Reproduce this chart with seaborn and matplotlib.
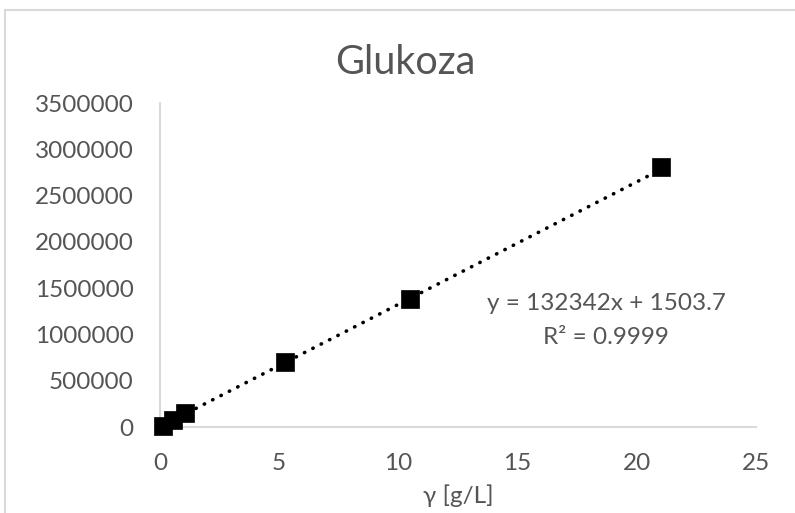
import numpy as np
import pandas as pd
import matplotlib
matplotlib.use("Agg")
import matplotlib.pyplot as plt
import matplotlib.patches as mpatches
import seaborn as sns

# Data
conc = [0.105, 0.525, 1.05, 5.25, 10.5, 21.0]
area = [16000, 78000, 148000, 702000, 1380000, 2805000]
slope = 132342
intercept = 1503.7
r2 = 0.9999
title = "Glukoza"
xlabel = "γ [g/L]"
xticks = [0, 5, 10, 15, 20, 25]
yticks = [0, 500000, 1000000, 1500000, 2000000, 2500000, 3000000, 3500000]

sns.set_theme(style="white")
plt.rcParams['font.family'] = ['Lato', 'DejaVu Sans']

gray = "#555555"
fs = 17.5
fig = plt.figure(figsize=(7.95, 5.13), dpi=100)
ax = fig.add_axes([160/795, 86/513, (756-160)/795, (427-103)/513])

df = pd.DataFrame({"x": conc, "y": area})
fit = pd.DataFrame({"x": [conc[0], conc[-1]],
                    "y": [slope*conc[0] + intercept, slope*conc[-1] + intercept]})
sns.lineplot(data=fit, x="x", y="y", ax=ax, color="black", linewidth=2.6,
             linestyle=(0, (0.1, 2.5)), dash_capstyle="round", zorder=2)
sns.scatterplot(data=df, x="x", y="y", ax=ax, marker="s", s=170, color="black",
                edgecolor="black", linewidth=0.5, zorder=3, clip_on=False)

ax.set_xlim(0, 25)
ax.set_ylim(0, 3500000)
ax.set_xticks(xticks)
ax.set_yticks(yticks)
ax.set_xticklabels([str(t) for t in xticks])
ax.set_yticklabels([str(t) for t in yticks])
ax.tick_params(axis="both", length=0, labelsize=fs, colors=gray)
ax.tick_params(axis="x", pad=19)
ax.tick_params(axis="y", pad=19)
for s in ["top", "right"]:
    ax.spines[s].set_visible(False)
for s in ["left", "bottom"]:
    ax.spines[s].set_color("#d9d9d9")
    ax.spines[s].set_linewidth(1.5)
ax.set_xlabel(xlabel, fontsize=fs, color=gray, labelpad=7)
ax.set_ylabel("")
ax.grid(False)

fig.text(405/795, 1 - 62/513, title, ha="center", va="center", fontsize=28.5, color=gray)
fig.text(606/795, 1 - 304/513, f"y = {slope}x + {intercept}", ha="center", va="center",
         fontsize=fs, color=gray)
fig.text(606/795, 1 - 337/513, f"R² = {r2}", ha="center", va="center",
         fontsize=fs, color=gray)

border = mpatches.Rectangle((5/795, -0.1), 1.2, (513-10)/513 + 0.1, transform=fig.transFigure,
                            fill=False, edgecolor="#d9d9d9", linewidth=1.5, clip_on=False)
fig.patches.append(border)

fig.savefig("out.png", dpi=100)
